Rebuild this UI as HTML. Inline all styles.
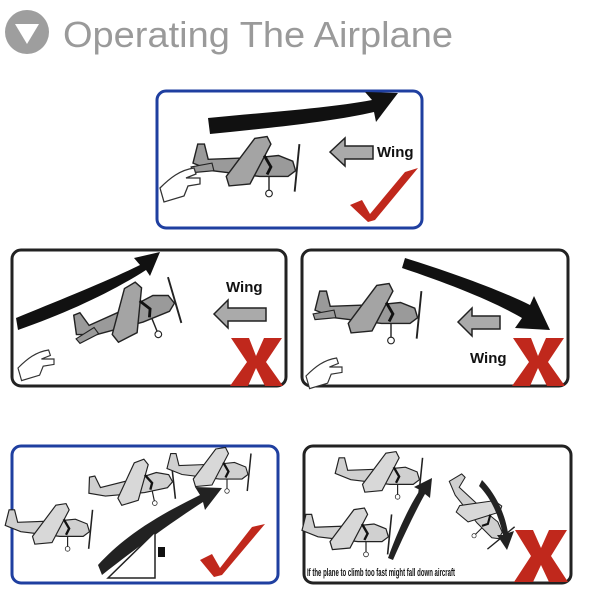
<!DOCTYPE html>
<html><head><meta charset="utf-8"><style>
body{margin:0;background:#fff;width:600px;height:600px;overflow:hidden}
</style></head><body>
<svg width="600" height="600" viewBox="0 0 600 600" xmlns="http://www.w3.org/2000/svg" font-family="Liberation Sans, sans-serif">
<defs>
<g id="pl">
 <path d="M-60,-2 L-55,-22 L-48,-22 L-44,-6 L10,-8 L30,-10 L45,-4 L48,6 L40,12 L10,12 L-40,6 Z" fill="#9a9a9a" stroke="#222" stroke-width="1.5"/>
 <path d="M-25,12 L5,-28 L18,-30 L22,-22 L0,20 L-22,22 Z" fill="#a4a4a4" stroke="#222" stroke-width="1.5"/>
 <path d="M-62,2 L-40,-2 L-38,6 L-60,8 Z" fill="#9a9a9a" stroke="#222" stroke-width="1.2"/>
 <path d="M15,-10 L22,2 L18,10" fill="none" stroke="#111" stroke-width="3"/>
 <line x1="52" y1="-22" x2="47" y2="28" stroke="#222" stroke-width="2"/>
 <line x1="20" y1="12" x2="20" y2="28" stroke="#222" stroke-width="1.5"/>
 <circle cx="20" cy="30" r="3.5" fill="#fff" stroke="#222" stroke-width="1.2"/>
</g>
<g id="plL">
 <path d="M-60,-2 L-55,-22 L-48,-22 L-44,-6 L10,-8 L30,-10 L45,-4 L48,6 L40,12 L10,12 L-40,6 Z" fill="#d0d0d0" stroke="#222" stroke-width="1.5"/>
 <path d="M-25,12 L5,-28 L18,-30 L22,-22 L0,20 L-22,22 Z" fill="#d8d8d8" stroke="#222" stroke-width="1.5"/>
 <path d="M15,-10 L22,2 L18,10" fill="none" stroke="#111" stroke-width="3"/>
 <line x1="52" y1="-22" x2="47" y2="28" stroke="#222" stroke-width="2"/>
 <line x1="20" y1="12" x2="20" y2="26" stroke="#222" stroke-width="1.5"/>
 <circle cx="20" cy="28" r="3" fill="#fff" stroke="#222" stroke-width="1"/>
</g>
<g id="hand">
 <path d="M0,0 C10,-10 20,-18 34,-20 L36,-14 L26,-10 L40,-10 L40,-4 L28,-2 L24,8 L4,14 Z" fill="#fff" stroke="#333" stroke-width="1.3"/>
</g>
<path id="xx" d="M0,0 L18,0 L25,18 L33,0 L51,0 L35,24 L52,48 L34,48 L25,30 L17,48 L-1,48 L16,24 Z" fill="#c0281c"/>
</defs>

<!-- header -->
<circle cx="27" cy="32" r="22" fill="#9e9e9e"/>
<path d="M15,24 L39,24 L27,44 Z" fill="#fff"/>
<text x="63" y="47" font-size="36" fill="#9a9a9a" textLength="390" lengthAdjust="spacingAndGlyphs">Operating The Airplane</text>

<!-- top box -->
<rect x="157" y="91" width="265" height="137" rx="9" fill="#fff" stroke="#1f3fa0" stroke-width="3"/>
<path d="M208,118 C270,112 330,108 372,100 L365,92 L398,93 L376,122 L374,112 C330,122 270,128 210,134 Z" fill="#111"/>
<use href="#pl" transform="translate(250,165) scale(0.95)"/>
<use href="#hand" transform="translate(160,188)"/>
<path d="M330,152 L345,138 L345,146 L373,146 L373,159 L345,159 L345,166 Z" fill="#aaa" stroke="#222" stroke-width="1.5"/>
<text x="377" y="157" font-size="15" font-weight="bold" fill="#111">Wing</text>
<path d="M350,205 L362,200 L370,214 L405,172 L418,168 L375,220 L368,222 Z" fill="#c0281c"/>

<!-- middle left -->
<rect x="12" y="250" width="274" height="136" rx="9" fill="#fff" stroke="#222" stroke-width="3"/>
<path d="M16,318 C60,300 110,280 140,265 L134,258 L160,252 L150,276 L146,270 C115,290 70,312 18,330 Z" fill="#111"/>
<use href="#pl" transform="translate(130,315) rotate(-22) scale(0.95)"/>
<use href="#hand" transform="translate(18,368) scale(0.9)"/>
<path d="M214,314 L228,300 L228,308 L266,308 L266,321 L228,321 L228,328 Z" fill="#aaa" stroke="#222" stroke-width="1.5"/>
<text x="226" y="292" font-size="15" font-weight="bold" fill="#111">Wing</text>
<use href="#xx" transform="translate(231,338)"/>

<!-- middle right -->
<rect x="302" y="250" width="266" height="136" rx="9" fill="#fff" stroke="#222" stroke-width="3"/>
<path d="M405,258 C450,272 500,290 530,305 L534,296 L550,330 L515,328 L522,318 C495,302 450,284 402,268 Z" fill="#111"/>
<use href="#pl" transform="translate(372,312) scale(0.95)"/>
<use href="#hand" transform="translate(306,376) scale(0.9)"/>
<path d="M458,322 L472,308 L472,316 L500,316 L500,329 L472,329 L472,336 Z" fill="#aaa" stroke="#222" stroke-width="1.5"/>
<text x="470" y="363" font-size="15" font-weight="bold" fill="#111">Wing</text>
<use href="#xx" transform="translate(513,338)"/>

<!-- bottom left -->
<rect x="12" y="446" width="266" height="137" rx="9" fill="#fff" stroke="#1f3fa0" stroke-width="3"/>
<path d="M98,565 C130,530 170,510 200,495 L195,487 L222,488 L205,510 L203,502 C175,520 140,545 102,575 Z" fill="#222"/>
<path d="M108,578 L155,532 L155,578 Z" fill="#fff" stroke="#222" stroke-width="1.5"/>
<rect x="158" y="547" width="7" height="10" fill="#111"/>
<use href="#plL" transform="translate(52,527) scale(0.78)"/>
<use href="#plL" transform="translate(135,485) rotate(-12) scale(0.78)"/>
<use href="#plL" transform="translate(212,470) scale(0.75)"/>
<path d="M200,560 L212,554 L220,568 L252,527 L265,524 L222,575 L214,577 Z" fill="#c0281c"/>

<!-- bottom right -->
<rect x="304" y="446" width="267" height="137" rx="9" fill="#fff" stroke="#222" stroke-width="3"/>
<use href="#plL" transform="translate(382,475) scale(0.78)"/>
<use href="#plL" transform="translate(350,532) scale(0.8)"/>
<use href="#plL" transform="translate(478,512) rotate(45) scale(0.7)"/>
<path d="M388,558 C398,530 410,505 420,490 L414,487 L432,478 L430,498 L425,494 C416,510 404,535 393,560 Z" fill="#222"/>
<path d="M482,480 C495,493 505,513 508,533 L514,531 L507,550 L497,535 L503,535 C499,516 491,498 479,486 Z" fill="#222"/>
<text x="307" y="576" font-size="11" font-weight="bold" fill="#111" textLength="148" lengthAdjust="spacingAndGlyphs">If the plane to climb too fast might fall down aircraft</text>
<path d="M515,530 L533,530 L541,548 L549,530 L567,530 L551,556 L568,582 L549,582 L541,565 L533,582 L514,582 L531,556 Z" fill="#c0281c"/>
</svg>
</body></html>
